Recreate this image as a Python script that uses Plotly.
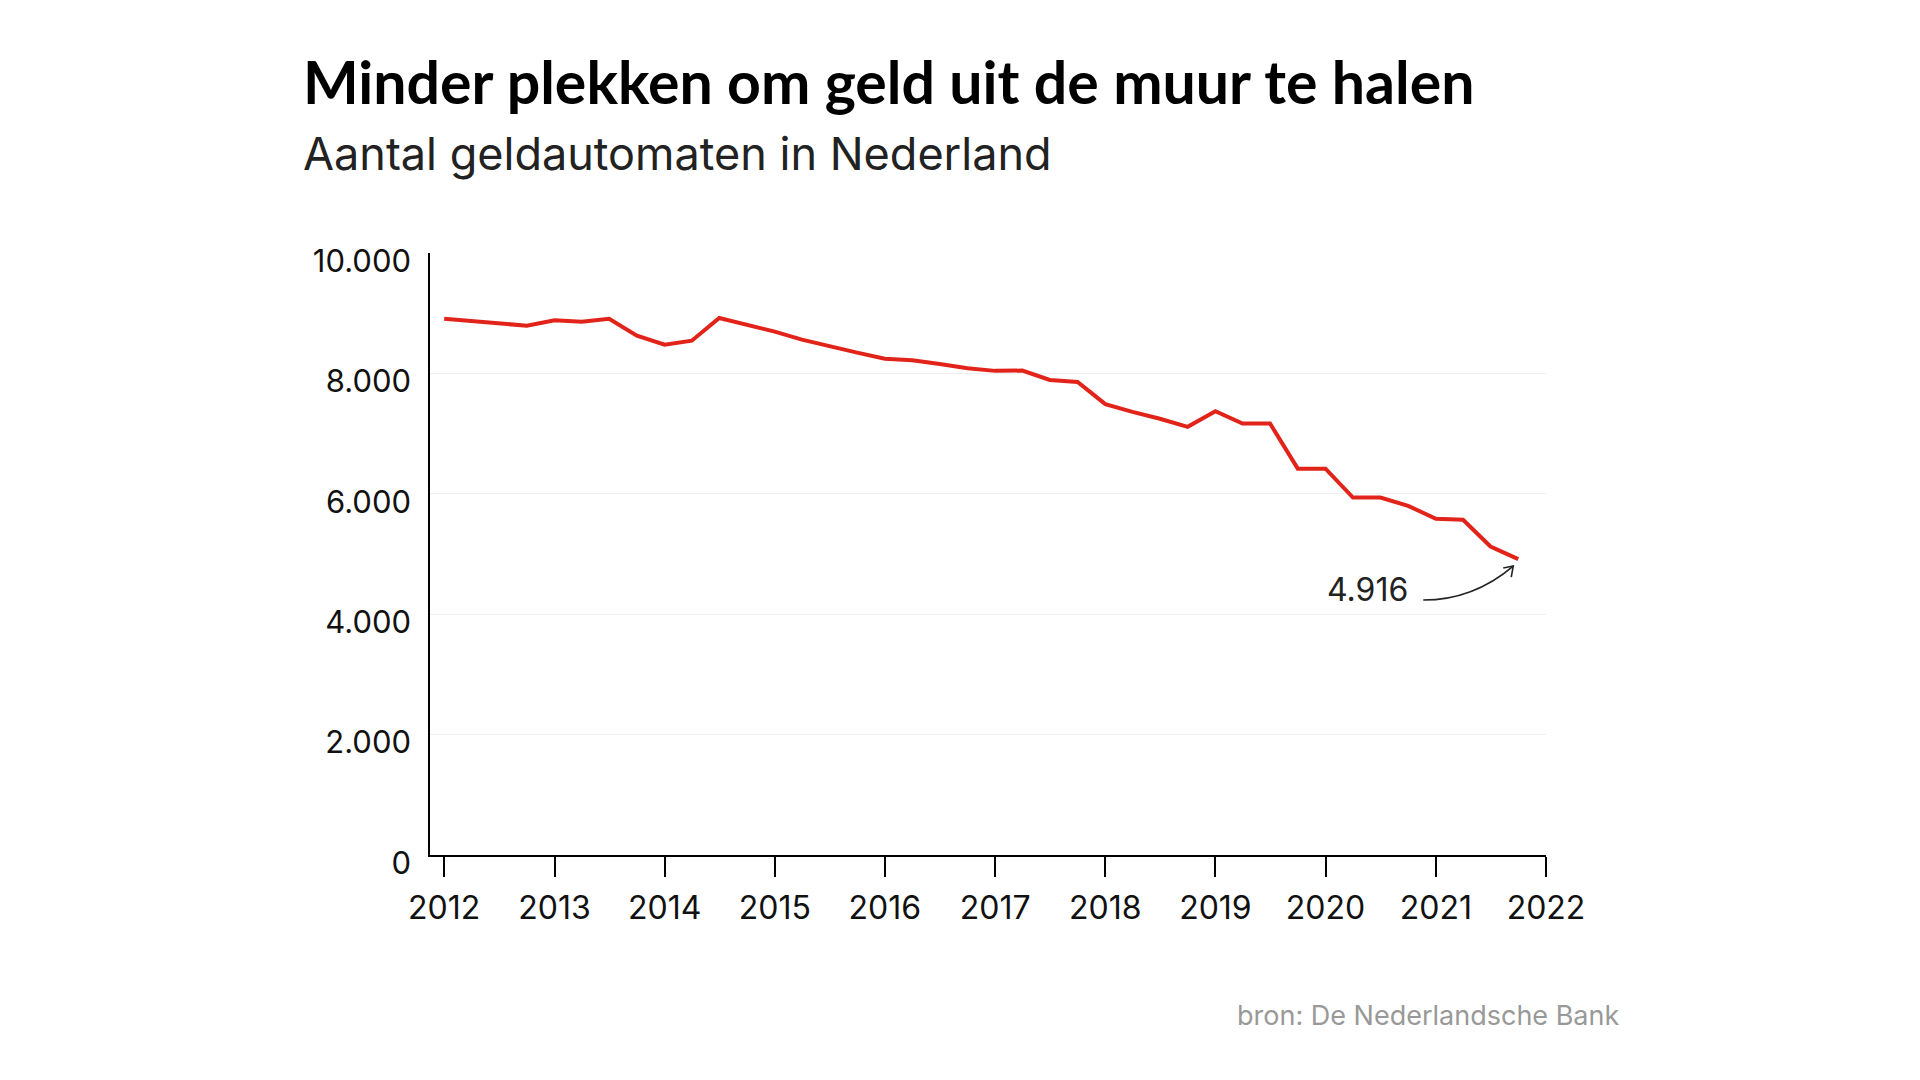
import plotly.graph_objects as go

# Aantal geldautomaten per kwartaal (bron: DNB)
quarters = [f"{y}-{m:02d}-01" for y in range(2012, 2022) for m in (1, 4, 7, 10)]
atms = [
    8908, 8865, 8825, 8792,   # 2012
    8881, 8858, 8908, 8627,   # 2013
    8477, 8543, 8920, 8815,   # 2014
    8695, 8560, 8450, 8345,   # 2015
    8245, 8219, 8157, 8086,   # 2016
    8042, 8047, 7892, 7859,   # 2017
    7490, 7360, 7246, 7113,   # 2018
    7373, 7168, 7168, 6418,   # 2019
    6418, 5937, 5937, 5800,   # 2020
    5584, 5568, 5125, 4916,   # 2021
]
year_ticks = [f"{y}-01-01" for y in range(2012, 2023)]
year_labels = [str(y) for y in range(2012, 2023)]
y_ticks = [0, 2000, 4000, 6000, 8000, 10000]

TITLE_FONT = "Lato"
FONT = "Inter"
RED = "#e2231a"

fig = go.Figure()

fig.add_trace(go.Scatter(
    x=quarters, y=atms,
    mode="lines",
    line=dict(color=RED, width=4),
    hoverinfo="skip",
    showlegend=False,
))

# label for the last value
last_label = f"{atms[-1]:,}".replace(",", ".")
fig.add_annotation(
    x=quarters[-1], y=atms[-1],
    text=last_label,
    showarrow=False,
    xshift=-151, yshift=-30,
    font=dict(family=FONT, size=32, color="#222222"),
)

# curved arrow pointing at the last value (pixel offsets from that point)
for p in ["M -95,-41 Q -45,-41 -5,-7", "M -15,-9 L -5,-7 L -7,-18"]:
    fig.add_shape(
        type="path", path=p,
        xref="x", yref="y",
        xsizemode="pixel", ysizemode="pixel",
        xanchor=quarters[-1], yanchor=atms[-1],
        line=dict(color="#222222", width=1.6),
    )

# title, subtitle and source
fig.add_annotation(
    xref="paper", yref="paper", x=-0.1156, y=1.2857,
    xanchor="left", yanchor="middle", showarrow=False,
    text="<b>Minder plekken om geld uit de muur te halen</b>",
    font=dict(family=TITLE_FONT, size=59, color="#000000"),
)
fig.add_annotation(
    xref="paper", yref="paper", x=-0.1156, y=1.1645,
    xanchor="left", yanchor="middle", showarrow=False,
    text="Aantal geldautomaten in Nederland",
    font=dict(family=FONT, size=45, color="#222222"),
)
fig.add_annotation(
    xref="paper", yref="paper", x=1.067, y=-0.2658,
    xanchor="right", yanchor="middle", showarrow=False,
    text="bron: De Nederlandsche Bank",
    font=dict(family=FONT, size=27, color="#999999"),
)

fig.update_xaxes(
    range=["2011-11-15", "2022-01-01"],
    tickvals=year_ticks, ticktext=year_labels,
    ticks="outside", ticklen=20, tickwidth=1.5, tickcolor="#000000",
    showline=True, linecolor="#000000", linewidth=2,
    showgrid=False, zeroline=False,
    ticklabelstandoff=4,
    tickfont=dict(family=FONT, size=32, color="#111111"),
)
fig.update_yaxes(
    range=[0, 10000],
    tickvals=y_ticks, tickformat=",d",
    ticks="", showline=True, linecolor="#000000", linewidth=1.5,
    showgrid=True, gridcolor="#efefef", gridwidth=1,
    zeroline=False,
    ticklabelstandoff=11, ticklabelshift=8,
    tickfont=dict(family=FONT, size=31, color="#111111"),
)

fig.update_layout(
    width=1920, height=1080,
    margin=dict(l=422, r=382, t=245, b=233),
    paper_bgcolor="#ffffff", plot_bgcolor="#ffffff",
    separators=",.",
    font=dict(family=FONT),
)

fig.write_html("out.html")
